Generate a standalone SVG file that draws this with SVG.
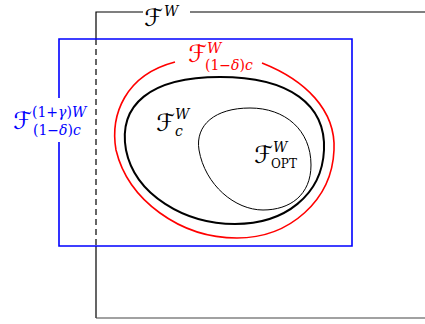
<svg xmlns="http://www.w3.org/2000/svg" width="425" height="324" viewBox="0 0 425 324">
<style>
.f{font-family:"DejaVu Serif","Liberation Serif",serif;font-style:italic}
.cal{font-family:"DejaVu Sans","DejaVu Serif",serif;font-style:normal;font-size:24px}
.sm{font-size:14px}
.rm{font-style:normal}
</style>
<rect width="425" height="324" fill="#fff"/>
<g id="connectors" fill="none">
</g>
<g id="FW" fill="none" stroke="#000">
<path d="M96,318 V246 M96,39 V12 H143 M190,12 H425" stroke-width="1.2"/>
<path d="M96,39 V246" stroke-dasharray="6,4" stroke-width="1.2"/>
<path d="M96,318 H425" stroke="#444" stroke-width="1.2"/>
</g>
<g id="Fgamma" fill="none" stroke="#0000ff" stroke-width="1.6">
<path d="M59,98 V39 H352 V246 H59 V142"/>
</g>
<g id="Fdelta" fill="none" stroke="#ff0000" stroke-width="1.6">
<path d="M262,63 C305,80 336,110 334,150 C332,200 290,238 237,238 C180,238 128,200 116,150 C110,115 125,75 175,62"/>
</g>
<g id="Fc" fill="none" stroke="#000" stroke-width="2">
<path d="M220,77 C290,77 326,105 324,150 C322,195 285,224 235,224 C185,224 135,195 126,150 C118,105 150,77 220,77 Z"/>
</g>
<g id="Fopt" fill="none" stroke="#000" stroke-width="1">
<path d="M250,108 C285,108 311,130 311,165 C311,195 290,210 263,210 C235,210 205,185 199,150 C195,125 215,108 250,108 Z"/>
</g>
<g id="labels" class="f">
<text x="144" y="26" class="cal">ℱ</text><text x="164" y="16" class="sm">W</text>
<text x="188" y="62" class="cal" fill="#ff0000">ℱ</text><text x="207" y="53" class="sm" fill="#ff0000">W</text><text x="205" y="70" class="sm" fill="#ff0000"><tspan class="rm">(1−</tspan>δ<tspan class="rm">)</tspan>c</text>
<text x="13" y="129" class="cal" fill="#0000ff">ℱ</text><text x="32" y="117" class="sm" fill="#0000ff"><tspan class="rm">(1+</tspan>γ<tspan class="rm">)</tspan>W</text><text x="33" y="135" class="sm" fill="#0000ff"><tspan class="rm">(1−</tspan>δ<tspan class="rm">)</tspan>c</text>
<text x="156" y="131" class="cal">ℱ</text><text x="175" y="119" class="sm">W</text><text x="175" y="136" class="sm">c</text>
<text x="254" y="163" class="cal">ℱ</text><text x="273" y="152" class="sm">W</text><text x="271" y="168" class="sm rm" style="font-size:12px">OPT</text>
</g>
</svg>
